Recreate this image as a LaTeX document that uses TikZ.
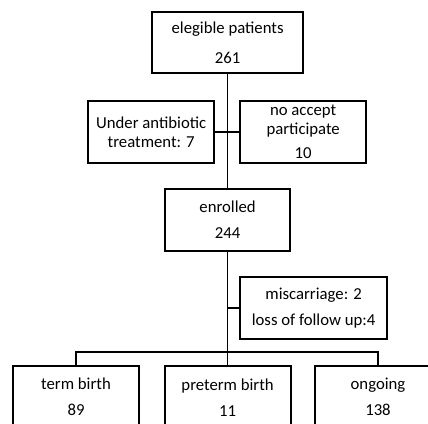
\documentclass[tikz,border=0pt]{standalone}
\usepackage{fontspec}
\setmainfont{Carlito}
\usepackage{tikz}
\usetikzlibrary{arrows}

\begin{document}
\begin{tikzpicture}[
		box/.style={draw, line width=1.4pt, minimum width=3.15cm, minimum height=1.55cm, align=center, inner sep=0pt, font=\fontsize{11.9}{13.8}\selectfont},
		link/.style={line width=0.75pt}]
		\useasboundingbox (0,0) rectangle (10.7,-10.6);
	
		\node[box, minimum width=3.78cm, minimum height=1.52cm] (elig) at (5.69,-1.06) {elegible patients\\[7.5pt]261};
		\node[box] (antib) at (3.78,-3.3) {Under antibiotic\\treatment: 7};
		\node[box] (noacc) at (7.58,-3.3) {no accept\\participate\\[3.2pt]10};
		\node[box, minimum width=3.13cm] (enrol) at (5.69,-5.5) {enrolled\\[4.7pt]244};
		\node[box, minimum width=3.68cm] (lost) at (7.84,-7.7) {miscarriage: 2\\[4.7pt]loss of follow up:4};
		
		\node[box] (term) at (1.9,-9.93) {term birth\\[4.7pt]89};
		\node[box] (preterm) at (5.69,-9.93) {preterm birth\\[4.7pt]11};
		\node[box] (ongo) at (9.45,-9.93) {ongoing\\[4.7pt]138};
		
		\coordinate (bus) at (5.69,-8.8);
		
		\draw [link] (elig) -- (enrol);
		\draw [link] (antib) -- (noacc);
		\draw [link] (enrol) -- (preterm);
		\draw [link] (lost.west) -- (lost.west -| enrol);
		\draw [link] (term) |- (bus) -| (ongo);
	\end{tikzpicture}
\end{document}
